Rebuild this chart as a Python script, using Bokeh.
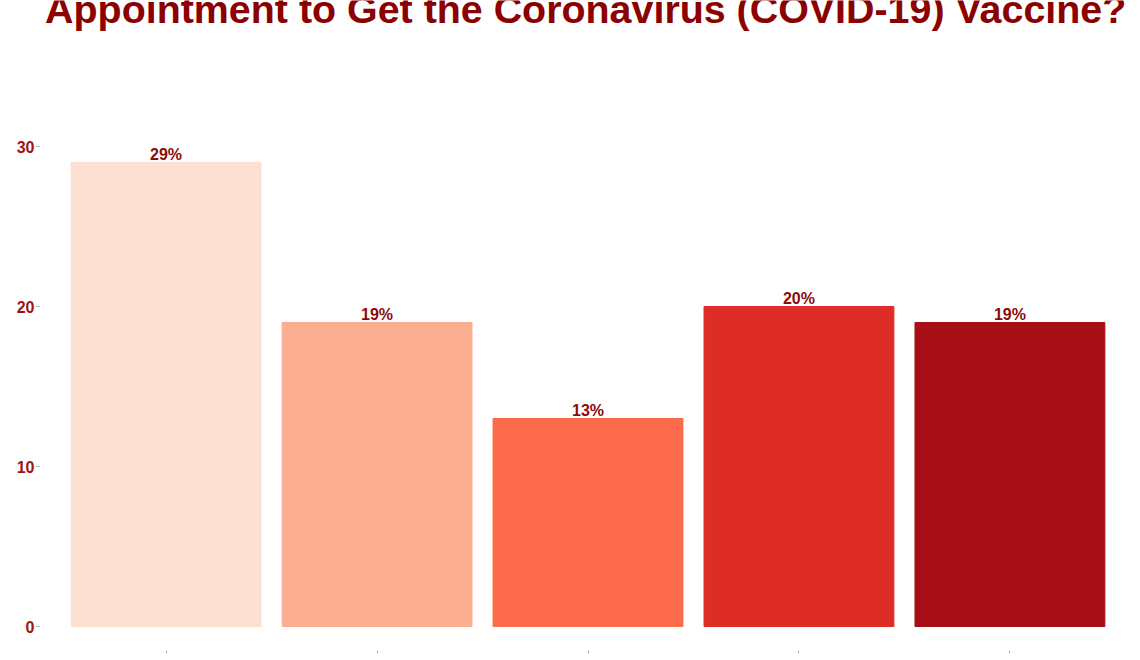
from bokeh.plotting import figure
from bokeh.models import Range1d, FixedTicker, Label, ColumnDataSource
from bokeh.embed import file_html
from bokeh.resources import INLINE
from bokeh.core.properties import value

# Data
positions = [1, 2, 3, 4, 5]
percents = [29, 19, 13, 20, 19]
bar_colors = ["#FEE0D2", "#FCAE91", "#FB6A4A", "#DE2D26", "#A50F15"]
y_ticks = [0, 10, 20, 30]
title_text = "Appointment to Get the Coronavirus (COVID-19) Vaccine?"

labels = [f"{v}%" for v in percents]
src = ColumnDataSource(dict(x=positions, top=percents, color=bar_colors, label=labels))

p = figure(width=1140, height=660, output_backend="svg", toolbar_location=None,
           x_range=Range1d(0.4, 5.6), y_range=Range1d(-1.5, 39.125),
           min_border_left=39, min_border_right=4, min_border_top=0, min_border_bottom=10)

p.vbar(x="x", top="top", bottom=0, width=0.9, color="color", source=src)
p.text(x="x", y="top", text="label", source=src, text_align="center", text_baseline="bottom",
       y_offset=0, text_font=value("Liberation Sans"), text_font_style="bold",
       text_font_size="16px", text_color="#8b0a0a")

p.xgrid.visible = False
p.ygrid.visible = False
p.outline_line_color = None
p.background_fill_color = "white"
p.border_fill_color = "white"

for ax in (p.xaxis[0], p.yaxis[0]):
    ax.axis_line_color = None
    ax.major_tick_line_color = "#aaaaaa"
    ax.major_tick_in = 0
    ax.major_tick_out = 3
    ax.minor_tick_line_color = None
    ax.major_label_text_font = "Liberation Sans"
    ax.major_label_text_font_style = "bold"
    ax.major_label_text_font_size = "16px"
    ax.major_label_text_color = "#9e1414"
    ax.major_label_standoff = 2

p.yaxis.ticker = FixedTicker(ticks=y_ticks)
p.xaxis.ticker = FixedTicker(ticks=positions)
p.xaxis.major_label_overrides = {k: "" for k in positions}

title = Label(x=0.4265, y=38.6, text=title_text, text_font="Liberation Sans",
              text_font_style="bold", text_font_size="39.4px", text_color="#8b0000",
              text_baseline="alphabetic", text_align="left")
p.add_layout(title)

open("out.html", "w").write(file_html(p, INLINE))
